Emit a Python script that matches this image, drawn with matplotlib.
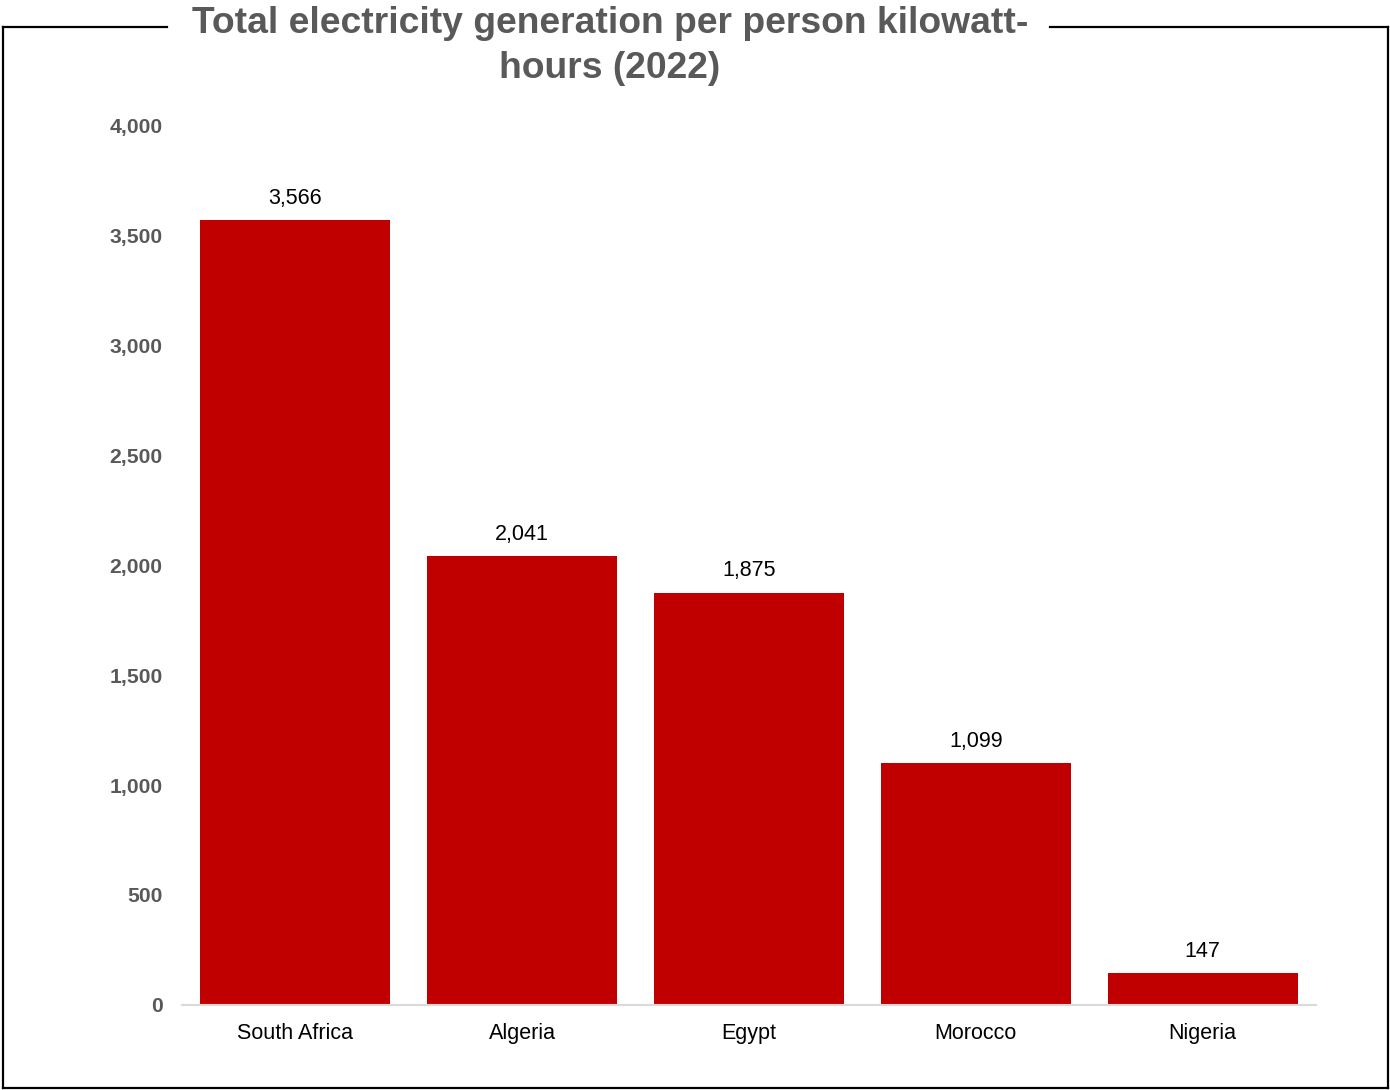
import matplotlib.pyplot as plt
from matplotlib.lines import Line2D
from matplotlib.ticker import FuncFormatter

plt.rcParams['font.family'] = ['Liberation Sans', 'DejaVu Sans']

countries = ['South Africa', 'Algeria', 'Egypt', 'Morocco', 'Nigeria']
values = [3566, 2041, 1875, 1099, 147]
yticks = [0, 500, 1000, 1500, 2000, 2500, 3000, 3500, 4000]

W, H = 1390, 1090
fig = plt.figure(figsize=(13.9, 10.9), dpi=100)
ax = fig.add_axes([182 / W, 85 / H, (1316 - 182) / W, (1005 - 125) / H])

x = range(len(countries))
ax.bar(x, values, width=0.837, color='#c00000', zorder=2)
for xi, v in zip(x, values):
    ax.annotate(f'{v:,}', (xi, v), xytext=(0, 8), textcoords='offset points',
                ha='center', va='bottom', fontsize=15.5, color='#000000')

ax.set_xlim(-0.5, 4.5)
ax.set_ylim(0, 4000)
ax.set_yticks(yticks)
ax.yaxis.set_major_formatter(FuncFormatter(lambda v, p: f'{int(v):,}'))
ax.set_xticks(list(x))
ax.set_xticklabels(countries)
for s in ['top', 'right', 'left']:
    ax.spines[s].set_visible(False)
ax.spines['bottom'].set_color('#d9d9d9')
ax.spines['bottom'].set_linewidth(1.5)
ax.tick_params(axis='y', length=0, pad=14, labelsize=15.2, labelcolor='#595959')
ax.tick_params(axis='x', length=0, pad=13, labelsize=15.5, labelcolor='#000000')
for lab in ax.get_yticklabels():
    lab.set_fontweight('bold')

# title
fig.text(610 / W, 1 - 46 / H, 'Total electricity generation per person kilowatt-\nhours (2022)',
         ha='center', va='center', fontsize=26.8, fontweight='bold', color='#595959',
         linespacing=1.38)

# border with gap for title
lw = 1.6
def fl(xs, ys):
    fig.add_artist(Line2D([v / W for v in xs], [1 - v / H for v in ys],
                          color='black', lw=lw, transform=fig.transFigure))
fl([3, 167], [27, 27])
fl([1050, 1388], [27, 27])
fl([3, 3], [27, 1088])
fl([1388, 1388], [27, 1088])
fl([3, 1388], [1088, 1088])

fig.savefig('out.png', dpi=100)
